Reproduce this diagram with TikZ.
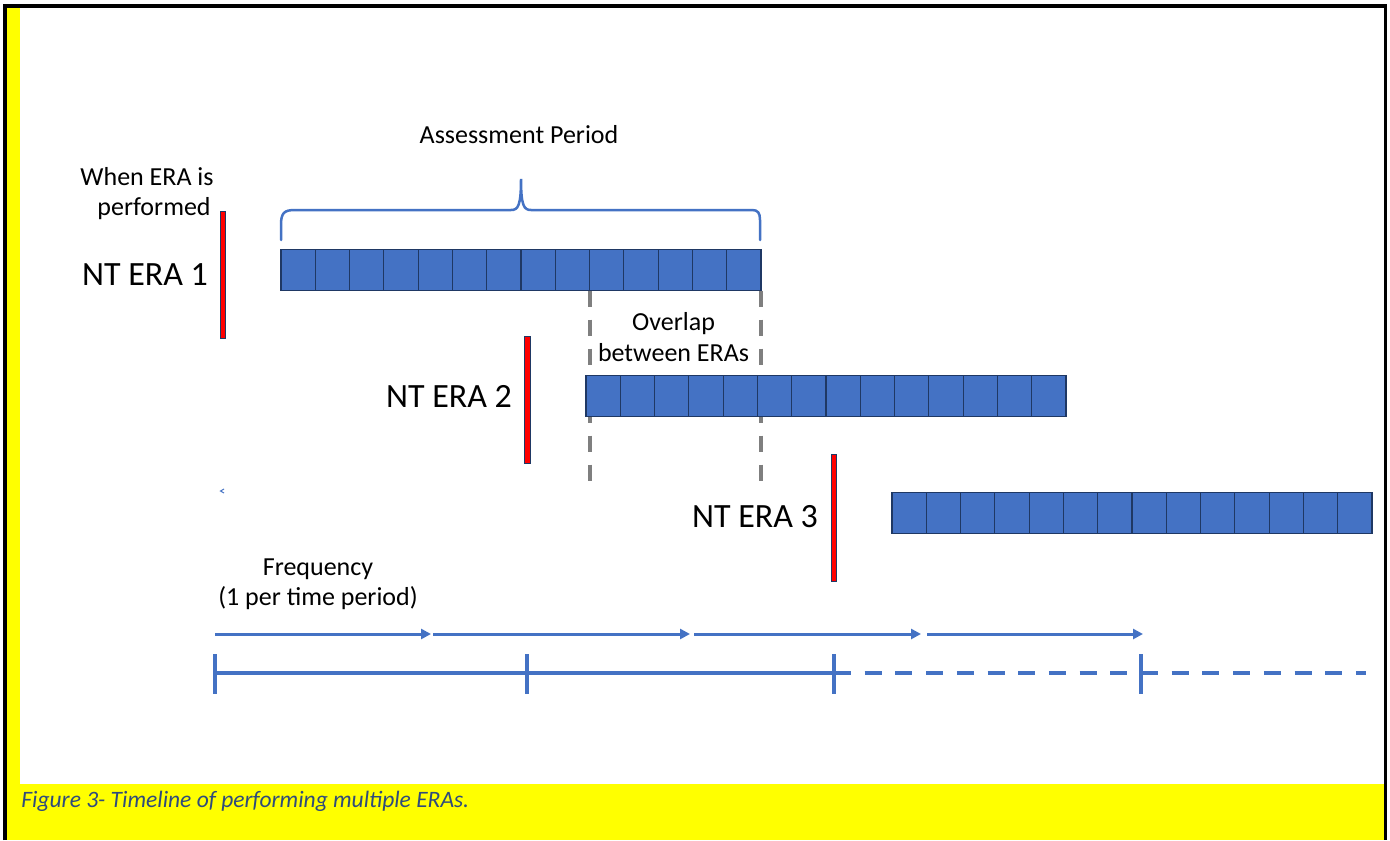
\documentclass[tikz,border=0pt]{standalone}
\usepackage{fontspec}
\setmainfont{Carlito}
\usetikzlibrary{arrows.meta,backgrounds}
\definecolor{cblue}{HTML}{4472C4}
\definecolor{cnavy}{HTML}{1F3864}
\definecolor{cgray}{HTML}{7F7F7F}
\definecolor{cyel}{HTML}{FFFF00}
\definecolor{ccap}{HTML}{2F4B7C}
\begin{document}
\begin{tikzpicture}[x=0.5pt,y=-0.5pt,
  cell/.style={draw=cnavy, line width=0.55pt, fill=cblue, minimum width=17.14pt, minimum height=20.5pt, inner sep=0pt, outer sep=0pt, anchor=north west},
  redbar/.style={draw=cnavy, fill=red, line width=0.5pt, minimum width=2.85pt, minimum height=63.5pt, inner sep=0pt, outer sep=0pt},
  lbl/.style={font=\fontsize{13}{15.6}\selectfont, inner sep=0pt, anchor=base},
  biglbl/.style={font=\fontsize{17}{20}\selectfont, inner sep=0pt, anchor=base},
  gdash/.style={draw=cgray, line width=2pt, dash pattern=on 8pt off 6.5pt},
  bline/.style={draw=cblue, line width=2pt},
  farrow/.style={draw=cblue, line width=1.5pt, -{Triangle[length=5pt,width=5pt]}},
  bracestyle/.style={draw=cblue, line width=1.25pt, line cap=round}
]
\useasboundingbox (0,0) rectangle (1390,840);

% blocks
\foreach \r/\x/\y in {1/281/249.5, 2/586/375.5, 3/892/492.5} {
  \foreach \c in {0,...,13} {
    \node[cell] (r\r c\c) at ({\x+\c*34.2857},\y) {};
  }
}

\begin{pgfonlayer}{background}
\fill[white] (0,0) rectangle (1390,840);
\fill[cyel] (6,7) rectangle (20,840);
\fill[cyel] (6,784) rectangle (1384,840);
% overlap dashed lines (behind the blocks)
\coordinate (gb) at (0,481);
\draw[gdash] (r1c9.south west) -- (r1c9.south west |- gb);
\draw[gdash] (r1c13.south east) -- (r1c13.south east |- gb);
\end{pgfonlayer}

\draw[line width=1.6pt] (5,840) -- (5,6) -- (1385.5,6) -- (1385.5,840);

% red bars
\node[redbar] (bar1) at (223,274.5) {};
\node[redbar] (bar2) at (527.5,400) {};
\node[redbar] (bar3) at (834,518) {};

% labels
\node[lbl, anchor=base east] (when1) at (214,185) {When ERA is};
\node[lbl, anchor=base east] (when2) at (211,215) {performed};
\node[biglbl] (nt1) at (145,285) {NT ERA 1};
\node[biglbl] (nt2) at (449,407) {NT ERA 2};
\node[biglbl] (nt3) at (755,527) {NT ERA 3};
\node[lbl] (assess) at (519,143) {Assessment Period};
\node[lbl] (ov1) at (673.5,330) {Overlap};
\node[lbl] (ov2) at (673.5,361) {between ERAs};
\node[lbl] (fq1) at (318,575) {Frequency};
\node[lbl] (fq2) at (318,605) {(1 per time period)};
\node[font=\fontsize{11.75}{14}\selectfont\itshape, text=ccap, anchor=base west, inner sep=0pt] (cap) at (21,807) {Figure 3- Timeline of performing multiple ERAs.};

% brace
\draw[bracestyle] (281,240) -- (281,225) .. controls (281,213) and (284,210) .. (295,210)
  -- (511,210) .. controls (518,210) and (521,206) .. (521,179)
  .. controls (521,206) and (524,210) .. (531,210)
  -- (752,210) .. controls (758,210) and (760,213) .. (760,220) -- (760,240);

% frequency arrows
\coordinate (f0) at (215,634);
\coordinate (f1) at (431,634);
\coordinate (f1b) at (433,634);
\coordinate (f2) at (690,634);
\coordinate (f2b) at (694,634);
\coordinate (f3) at (921,634);
\coordinate (f3b) at (927,634);
\coordinate (f4) at (1143,634);
\draw[farrow] (f0) -- (f1);
\draw[farrow] (f1b) -- (f2);
\draw[farrow] (f2b) -- (f3);
\draw[farrow] (f3b) -- (f4);

% timeline
\coordinate (t0) at (215,673);
\coordinate (t1) at (527,673);
\coordinate (t2) at (834,673);
\coordinate (t3) at (1141,673);
\coordinate (tend) at (1366,673);
\draw[bline] (t0) -- (t2);
\draw[bline, dash pattern=on 8.5pt off 6.85pt] (t2) -- (t3);
\draw[bline, dash pattern=on 8.5pt off 6.85pt] (t3) -- (tend);
\foreach \t in {t0,t1,t2,t3} {
  \draw[bline] (\t) ++(0,-19) -- ++(0,40);
}

% small stray mark
\draw[cblue, line width=0.5pt] (224,489) -- (220.5,491) -- (224,493);
\end{tikzpicture}
\end{document}
